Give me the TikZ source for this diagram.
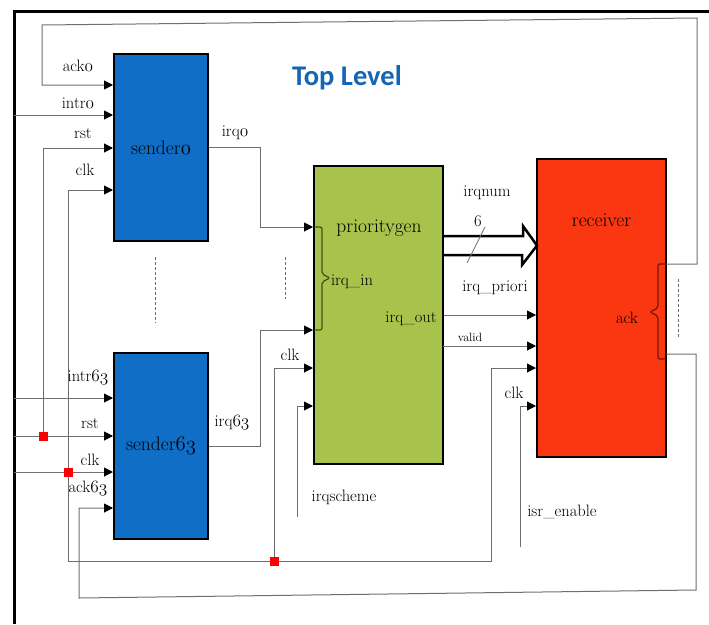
\documentclass[tikz,border=0pt]{standalone}
\usepackage{fontspec}
\newfontfamily\titlefont{Carlito}
\usetikzlibrary{arrows.meta}
\definecolor{sblue}{HTML}{106EC6}
\definecolor{pgreen}{HTML}{A8C34B}
\definecolor{rred}{HTML}{FA3710}
\definecolor{tblue}{HTML}{1565B4}
\definecolor{wire}{HTML}{6E6E6E}
\newcommand{\os}[1]{{\usefont{OML}{cmm}{m}{it}#1}}
\tikzset{
 blk/.style={draw=black,line width=2pt,inner sep=0pt,font=\fontsize{19.5}{19.5}\selectfont},
 net/.style={wire,line width=1pt},
 sig/.style={net,-{Triangle[length=9pt,width=9pt,color=black]}},
 lbl/.style={inner sep=0pt,font=\fontsize{16.5}{16.5}\selectfont},
 big/.style={inner sep=0pt,font=\fontsize{19.5}{19.5}\selectfont},
 dot/.style={fill=red,minimum size=9pt,inner sep=0pt},
 dots/.style={wire,line width=0.8pt,dash pattern=on 3pt off 2pt}
}
\begin{document}
\begin{tikzpicture}[x=1pt,y=-1pt]
 \useasboundingbox (0,0) rectangle (709,624);
 \draw[line width=3pt] (709,11) -- (14,11) -- (14,624);
 \node[blk,fill=sblue,minimum width=94pt,minimum height=187pt] (s0) at (161,147.5) {sender\os{0}};
 \node[blk,fill=sblue,minimum width=94pt,minimum height=186pt] (s63) at (161,446) {sender\os{63}};
 \node[blk,fill=pgreen,minimum width=129pt,minimum height=298pt] (pg) at (378.5,315) {};
 \node[blk,fill=rred,minimum width=129pt,minimum height=298pt] (rcv) at (601.5,308) {};
 \node[big] (pgl) at (379,228) {prioritygen};
 \node[big] (rcvl) at (601.5,220) {receiver};
 \node[inner sep=0pt,text=tblue,font=\titlefont\bfseries\fontsize{28.5}{28.5}\selectfont] (title) at (347,78) {Top Level};
 \foreach \t/\x/\y [count=\n] in {ack\os{0}/78/66,intr\os{0}/78/103,rst/83/133,clk/85/170,irq\os{0}/235/133,
  intr\os{63}/88/378,rst/90/423,clk/90/460,ack\os{63}/88/488,irq\os{63}/232/423,clk/290/355,irq\_in/352/282,
  irq\_out/411/319,irqscheme/344/497,irqnum/487/193,6/478/221,irq\_priori/495/288,clk/514/393,isr\_enable/562/512,ack/627/318}
  {\node[lbl] (l\n) at (\x,\y) {\t};}
 \node[inner sep=0pt,font=\fontsize{12}{12}\selectfont] (lv) at (470,337) {valid};
 \coordinate (i0) at (14,115); \coordinate (i63) at (14,398); \coordinate (ir) at (14,436); \coordinate (ic) at (14,472);
 \coordinate (jr) at (43,436); \coordinate (r0) at (43,148); \coordinate (jc) at (68,472); \coordinate (c0) at (68,190);
 \coordinate (cb) at (68,561); \coordinate (jb) at (274,561); \coordinate (pc) at (274,368); \coordinate (rc) at (491,368);
 \coordinate (qs) at (297,517); \coordinate (qs1) at (297,406); \coordinate (ie) at (520,547); \coordinate (ie1) at (520,406);
 \coordinate (q0) at (260,227); \coordinate (q63) at (260,330); \coordinate (va) at (443,346);
 \coordinate (at) at (666,264); \coordinate (ar) at (697,18); \coordinate (al) at (42,25); \coordinate (a0) at (42,85);
 \coordinate (ab) at (666,354); \coordinate (br) at (696,590); \coordinate (bl) at (79,598); \coordinate (a63) at (79,508);
 \coordinate (b0) at (537,245.5);
 \foreach \p in {i0,i63,ir,ic}{\draw[sig] (\p) -- (\p-|s63.west);}
 \draw[sig] (jr) -- (r0) -- (r0-|s0.west);
 \draw[sig] (cb) -- (c0) -- (c0-|s0.west);
 \draw[sig] (cb) -| (rc) -- (rc-|rcv.west);
 \draw[sig] (jb) -- (pc) -- (pc-|pg.west);
 \draw[sig] (qs) -- (qs1) -- (qs1-|pg.west);
 \draw[sig] (ie) -- (ie1) -- (ie1-|rcv.west);
 \draw[sig] (s0.east) -| (q0) -- (q0-|pg.west);
 \draw[sig] (s63.east) -| (q63) -- (q63-|pg.west);
 \draw[sig] (pg.east) -- (pg.east-|rcv.west);
 \draw[sig] (va) -- (va-|rcv.west);
 \draw[sig] (at) -| (ar) -- (al) -- (a0) -- (a0-|s0.west);
 \draw[sig] (ab) -| (br) -- (bl) -- (a63) -- (a63-|s63.west);
 \draw[line width=2.5pt,line join=miter] (pg.east|-b0) ++(0,-9.5) -- ++(79,0) -- ++(0,-10) -- (b0) -- ++(-15,19.5) -- ++(0,-10) -- ++(-79,0);
 \draw[net,line width=0.7pt] (467,263) -- (485,227);
 \draw[black!60!pgreen,line width=1.2pt,rounded corners=2pt] (314,227) -- (322,227) -- (322,274) -- (330,278) -- (322,282) -- (322,330) -- (314,330);
 \draw[black!55!rred,line width=1.2pt,rounded corners=2pt] (666,264) -- (658,264) -- (658,308) -- (650,312) -- (658,316) -- (658,359) -- (666,359);
 \draw[dots] (155,257) -- (155,323); \draw[dots] (285,257) -- (285,299); \draw[dots] (678,279) -- (678,338);
 \foreach \p [count=\n] in {jr,jc,jb}{\node[dot] (d\n) at (\p) {};}
\end{tikzpicture}
\end{document}
